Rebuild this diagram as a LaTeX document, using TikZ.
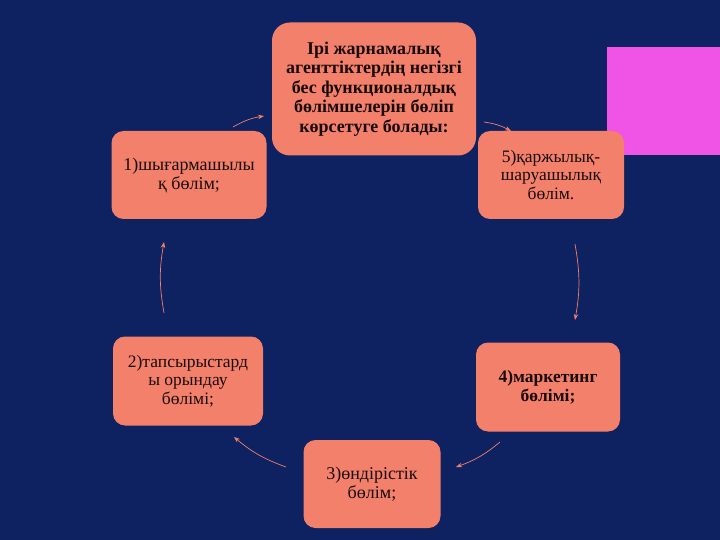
\documentclass[tikz,border=0pt]{standalone}
\usepackage{fontspec}
\setmainfont{Liberation Serif}
\usetikzlibrary{arrows.meta}
\definecolor{bgnavy}{RGB}{14,33,96}
\definecolor{salmon}{RGB}{243,128,106}
\definecolor{magentabox}{RGB}{240,84,230}
\definecolor{txt}{RGB}{25,10,10}
\tikzset{
  box/.style={fill=salmon, rounded corners=12pt, inner sep=0pt, align=center, text=txt},
  cyc/.style={draw=salmon, line width=0.7pt, -{Stealth[length=6pt,width=4.5pt]}, bend left=10},
}
\begin{document}
\begin{tikzpicture}[x=1pt,y=-1pt]
\fill[bgnavy] (0,0) rectangle (720,540);
\useasboundingbox (0,0) rectangle (720,540);
\fill[magentabox] (607,47) rectangle (720,155);

\node[box, rounded corners=18pt, minimum width=204pt, minimum height=133pt, font=\bfseries\fontsize{18}{19.5}\selectfont] (top) at (374,89)
  {Ірі жарнамалық\\агенттіктердің негізгі\\бес функционалдық\\бөлімшелерін бөліп\\көрсетуге болады:};
\node[box, minimum width=146pt, minimum height=88pt, font=\fontsize{17.5}{18.5}\selectfont] (five) at (551,175)
  {5)қаржылық-\\шаруашылық\\бөлім.};
\node[box, minimum width=155pt, minimum height=88pt, font=\fontsize{18}{19}\selectfont] (one) at (189,175)
  {1)шығармашылы\\қ бөлім;};
\node[box, minimum width=150pt, minimum height=89pt, font=\fontsize{17.5}{18.5}\selectfont] (two) at (188,381)
  {2)тапсырыстард\\ы орындау\\бөлімі;};
\node[box, minimum width=144pt, minimum height=89pt, font=\bfseries\fontsize{17.5}{19}\selectfont] (four) at (548,387)
  {4)маркетинг\\бөлімі;};
\node[box, minimum width=137pt, minimum height=88pt, font=\fontsize{18}{19}\selectfont] (three) at (372,484)
  {3)өндірістік\\бөлім;};

\coordinate (a1s) at (233,127); \coordinate (a1e) at (264,116);
\coordinate (a2s) at (484,122); \coordinate (a2e) at (511,131);
\coordinate (a3s) at (575,244); \coordinate (a3e) at (575,320);
\coordinate (a4s) at (500,442); \coordinate (a4e) at (456,467);
\coordinate (a5s) at (286,467); \coordinate (a5e) at (234,437);
\coordinate (a6s) at (164,313); \coordinate (a6e) at (164,242);

\draw[cyc] (a1s) to (a1e);
\draw[cyc] (a2s) to (a2e);
\draw[cyc] (a3s) to (a3e);
\draw[cyc] (a4s) to (a4e);
\draw[cyc] (a5s) to (a5e);
\draw[cyc] (a6s) to (a6e);
\end{tikzpicture}
\end{document}
